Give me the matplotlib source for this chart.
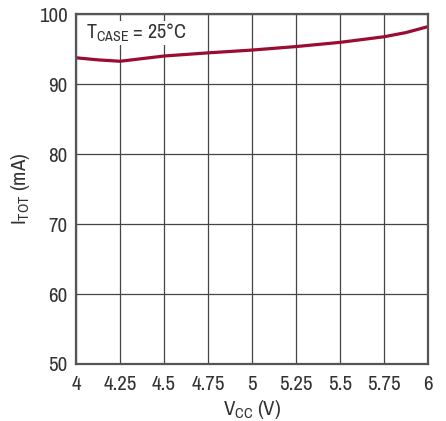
import matplotlib
matplotlib.use("Agg")
import matplotlib.pyplot as plt

# Datos
vcc = [4.0, 4.125, 4.25, 4.5, 4.75, 5.0, 5.25, 5.5, 5.75, 5.875, 6.0]
itot = [93.75, 93.45, 93.25, 94.0, 94.45, 94.85, 95.35, 95.95, 96.75, 97.35, 98.2]

xticks = [4, 4.25, 4.5, 4.75, 5, 5.25, 5.5, 5.75, 6]
xlabels = ['4', '4.25', '4.5', '4.75', '5', '5.25', '5.5', '5.75', '6']
yticks = [50, 60, 70, 80, 90, 100]

plt.rcParams['font.family'] = ['Archivo Narrow', 'DejaVu Sans']
plt.rcParams['mathtext.fontset'] = 'custom'
plt.rcParams['mathtext.rm'] = 'Archivo Narrow'

fig = plt.figure(figsize=(4.46, 4.21), dpi=100)
ax = fig.add_axes([0.1704, 0.1354, 0.7892, 0.8313])

ax.plot(vcc, itot, color='#9a0c32', linewidth=2.3, solid_capstyle='butt')

ax.set_xlim(4, 6)
ax.set_ylim(50, 100)
ax.set_xticks(xticks)
ax.set_xticklabels(xlabels)
ax.set_yticks(yticks)
ax.grid(True, color='#444444', linewidth=0.9)
ax.set_axisbelow(True)
ax.tick_params(length=0, labelsize=15, colors='#333333')
ax.tick_params(axis='x', pad=8)
ax.tick_params(axis='y', pad=6)
for s in ax.spines.values():
    s.set_color('#555555')
    s.set_linewidth(1.6)

ax.set_xlabel(r'V$_{\mathrm{CC}}$ (V)', fontsize=15, color='#333333', labelpad=3)
ax.set_ylabel(r'I$_{\mathrm{TOT}}$ (mA)', fontsize=15, color='#333333', labelpad=5)

ax.text(4.055, 97.3, r'T$_{\mathrm{CASE}}$ = 25°C', fontsize=14.5, color='#333333',
        va='center', ha='left',
        bbox=dict(facecolor='white', edgecolor='none', pad=0.5))

fig.savefig('out.png', dpi=100)
